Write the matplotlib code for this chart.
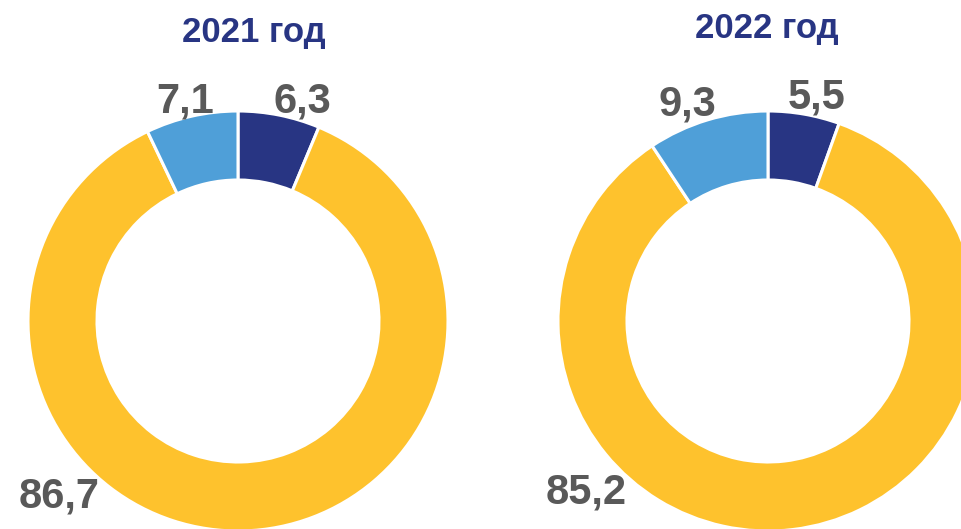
import matplotlib.pyplot as plt

years = ["2021 год", "2022 год"]
shares_2021 = [6.3, 86.7, 7.1]
shares_2022 = [5.5, 85.2, 9.3]
label_2021 = ["6,3", "86,7", "7,1"]
label_2022 = ["5,5", "85,2", "9,3"]
colors = ["#283583", "#FEC22D", "#4F9FD8"]

W, H = 962, 529

plt.rcParams['font.family'] = ['Liberation Sans', 'DejaVu Sans']

fig = plt.figure(figsize=(W / 100, H / 100), dpi=100)
ax = fig.add_axes([0, 0, 1, 1])

# pixel layout (y measured from top of image)
centers = [(238, 321), (768, 321)]
title_pos = [(254, 42), (767, 38)]
label_pos = [
    [(302, 112), (59, 507), (185, 112)],
    [(817, 108), (586, 504), (687, 115)],
]

for k, (vals, labs) in enumerate([(shares_2021, label_2021), (shares_2022, label_2022)]):
    cx, cy = centers[k]
    ax.pie(vals, colors=colors, startangle=90, counterclock=False,
           radius=210, center=(cx, H - cy), frame=True,
           wedgeprops=dict(width=69, edgecolor='white', linewidth=2.2))
    tx, ty = title_pos[k]
    ax.text(tx, H - ty, years[k], ha='center', va='baseline',
            fontsize=25, fontweight='bold', color='#283583')
    for (lx, ly), lab in zip(label_pos[k], labs):
        ax.text(lx, H - ly, lab, ha='center', va='baseline',
                fontsize=30, fontweight='bold', color='#595959')

ax.set_xlim(0, W)
ax.set_ylim(0, H)
ax.set_aspect('equal')
ax.axis('off')

fig.savefig('out.png', dpi=100)
